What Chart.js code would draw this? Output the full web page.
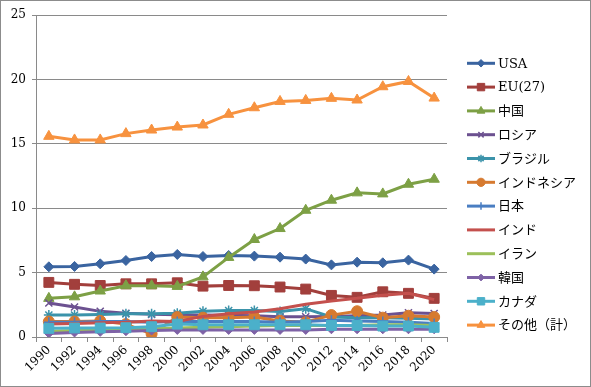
<!DOCTYPE html>
<html><head><meta charset="utf-8">
<script src="https://cdn.jsdelivr.net/npm/chart.js@4/dist/chart.umd.min.js"></script>
<style>
html,body{margin:0;padding:0;background:#fff;}
#wrap{position:absolute;left:0;top:0;width:591px;height:387px;box-sizing:border-box;border:1px solid #8c8c8c;background:#fff;}
canvas{display:block;}
</style></head><body>
<div id="wrap"><canvas id="c" width="589" height="385"></canvas></div>
<script>
const years = ['1990','1992','1994','1996','1998','2000','2002','2004','2006','2008','2010','2012','2014','2016','2018','2020'];
const seriesNames = ['USA','EU(27)','中国','ロシア','ブラジル','インドネシア','日本','インド','イラン','韓国','カナダ','その他（計）'];
const usa   = [5.45,5.48,5.68,5.94,6.25,6.41,6.25,6.33,6.28,6.2,6.05,5.6,5.81,5.76,5.97,5.27];
const eu27  = [4.24,4.09,4.0,4.13,4.13,4.21,3.95,4.0,3.98,3.88,3.72,3.23,3.08,3.51,3.39,3.0];
const china = [3.0,3.12,3.57,3.98,3.98,3.93,4.67,6.18,7.57,8.42,9.84,10.62,11.19,11.11,11.86,12.25];
const russia= [2.64,2.33,1.99,1.84,1.76,1.73,1.7,1.68,1.65,1.57,1.57,1.6,1.65,1.7,1.88,1.82];
const brazil= [1.7,1.7,1.75,1.8,1.8,1.85,2.0,2.05,2.05,1.98,2.2,1.55,1.5,1.5,1.45,1.4];
const indonesia=[1.2,1.2,1.25,1.0,0.25,1.55,1.5,1.5,1.55,1.25,1.15,1.7,2.0,1.5,1.65,1.55];
const japan = [1.15,1.15,1.2,1.2,1.15,1.2,1.2,1.2,1.2,1.15,1.2,1.3,1.25,1.2,1.15,1.05];
const india = [1.0,1.05,1.1,1.15,1.25,1.2,1.6,1.8,1.95,2.2,2.55,2.8,3.0,3.25,3.4,2.9];
const iran  = [0.45,0.5,0.55,0.6,0.65,0.7,0.75,0.8,0.85,0.9,0.9,0.9,0.9,0.95,0.95,0.9];
const korea = [0.28,0.35,0.4,0.45,0.5,0.55,0.55,0.55,0.55,0.55,0.55,0.6,0.6,0.6,0.6,0.6];
const canada= [0.67,0.7,0.7,0.72,0.8,1.0,0.95,0.95,0.95,0.95,0.95,0.9,0.9,0.85,0.85,0.75];
const others= [15.58,15.3,15.3,15.79,16.07,16.3,16.46,17.29,17.8,18.29,18.37,18.53,18.4,19.43,19.84,18.55];
const yTicks = [0,5,10,15,20,25];

const allData = [usa,eu27,china,russia,brazil,indonesia,japan,india,iran,korea,canada,others];
const colors = ['#3A64A0','#A23F3C','#7DA045','#6C5190','#3B93AA','#D67A30','#4A7EC2','#C4504D','#9CC05A','#7E62A6','#4BB0CA','#F7923F'];
const styles = [
  {ps:'rectRot',r:5},{ps:'rect',r:7},{ps:'triangle',r:6},{ps:'crossRot',r:5},{ps:'star',r:5},
  {ps:'circle',r:5.5},{ps:'cross',r:5},{ps:false,r:0},{ps:false,r:0},{ps:'rectRot',r:4.5},{ps:'rect',r:7},{ps:'triangle',r:6}
];

const datasets = allData.map((d,i)=>({
  label: seriesNames[i],
  data: d,
  borderColor: colors[i],
  backgroundColor: colors[i],
  pointBackgroundColor: colors[i],
  pointBorderColor: colors[i],
  pointStyle: styles[i].ps || 'circle',
  pointRadius: styles[i].r,
  pointBorderWidth: (styles[i].ps==='crossRot'||styles[i].ps==='star'||styles[i].ps==='cross')?1.5:1,
  borderWidth: 3,
  tension: 0,
  fill: false,
  order: 12 - i
}));

const legendPlugin = {
  id:'customLegend',
  afterDraw(chart){
    const ctx = chart.ctx;
    const x0 = 466, x1 = 494, tx = 497, y0 = 62.3, dy = 23.8;
    ctx.save();
    ctx.font = '13px "DejaVu Serif", "Noto Sans CJK JP", serif';
    ctx.textBaseline = 'middle';
    seriesNames.forEach((n,i)=>{
      const y = y0 + i*dy;
      ctx.strokeStyle = colors[i];
      ctx.lineWidth = 3;
      ctx.beginPath(); ctx.moveTo(x0,y); ctx.lineTo(x1,y); ctx.stroke();
      if (styles[i].ps){
        ctx.fillStyle = colors[i];
        ctx.strokeStyle = colors[i];
        ctx.lineWidth = datasets[i].pointBorderWidth;
        Chart.helpers.drawPoint(ctx,{pointStyle:styles[i].ps,rotation:0,radius:styles[i].r*0.75,borderWidth:datasets[i].pointBorderWidth}, (x0+x1)/2, y);
      }
      ctx.fillStyle = '#000';
      ctx.fillText(n, tx, y+1);
    });
    ctx.restore();
  }
};

new Chart(document.getElementById('c'), {
  type:'line',
  data:{labels:years, datasets},
  options:{
    responsive:false,
    animation:false,
    layout:{padding:{top:14,right:143,left:0,bottom:0}},
    plugins:{legend:{display:false},tooltip:{enabled:false}},
    scales:{
      x:{
        offset:true,
        grid:{offset:true,drawOnChartArea:false,drawTicks:true,tickLength:5,color:'#8a8a8a'},
        border:{display:true,color:'#8a8a8a'},
        ticks:{maxRotation:45,minRotation:45,autoSkip:false,color:'#000',padding:1,font:{family:'"DejaVu Serif", serif',size:12}},
        afterFit(s){ s.height = 49; }
      },
      y:{
        min:0,max:25,
        afterBuildTicks(s){ s.ticks = yTicks.map(v=>({value:v})); },
        grid:{color:'#8a8a8a',tickLength:4,lineWidth:1},
        border:{display:true,color:'#8a8a8a'},
        ticks:{color:'#000',padding:6,font:{family:'"DejaVu Serif", serif',size:12}},
        afterFit(s){ s.width = 35; }
      }
    }
  },
  plugins:[legendPlugin]
});
</script>
</body></html>
